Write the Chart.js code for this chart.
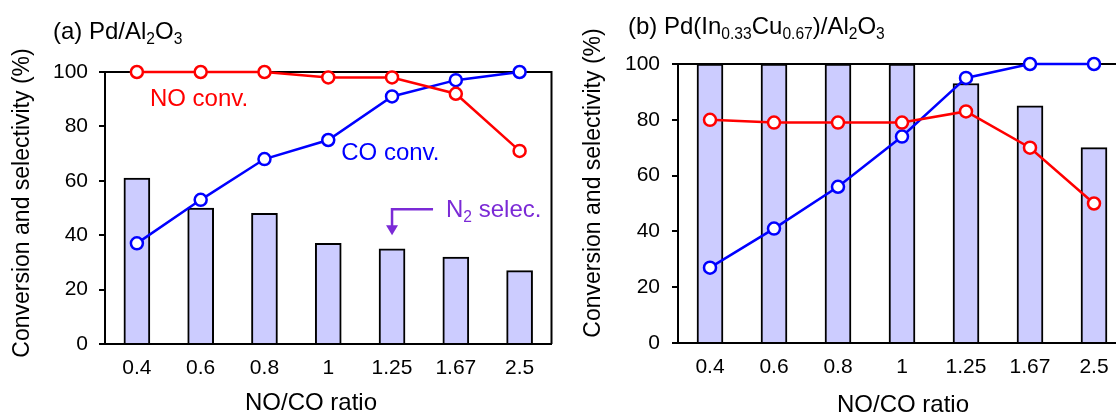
<!DOCTYPE html>
<html>
<head>
<meta charset="utf-8">
<script src="https://cdn.jsdelivr.net/npm/chart.js@4.4.1/dist/chart.umd.min.js"></script>
<style>
html,body{margin:0;padding:0;background:#fff;overflow:hidden;}
#wrap{position:relative;width:1116px;height:416px;overflow:hidden;}
#chart-a{position:absolute;left:0;top:0;}
#chart-b{position:absolute;left:560px;top:0;}
</style>
</head>
<body>
<div id="wrap">
<canvas id="chart-a" width="560" height="416"></canvas>
<canvas id="chart-b" width="600" height="416"></canvas>
</div>
<script>
var RATIOS=['0.4','0.6','0.8','1','1.25','1.67','2.5'];

// (a) Pd/Al2O3
var A_NO=[100,100,100,98,98,92,71];
var A_CO=[37,53,68,75,91,97,100];
var A_N2=[61,50,48,37,35,32,27];

// (b) Pd(In0.33Cu0.67)/Al2O3
var B_NO=[80,79,79,79,83,70,50];
var B_CO=[27,41,56,74,95,100,100];
var B_N2=[100,100,100,100,93,85,70];

var FONT='"Liberation Sans", Arial, sans-serif';
var BAR_FILL='#ccccff';
var PURPLE='#7b2ad6';

// draw text with subscripts: parts = [[text, isSub], ...]
function richText(ctx,parts,x,y,size,color){
    ctx.save();
    ctx.fillStyle=color;
    ctx.textBaseline='middle';
    ctx.textAlign='left';
    parts.forEach(function(p){
        var s=p[1]?size*0.65:size;
        ctx.font=s+'px '+FONT;
        ctx.fillText(p[0],x,p[1]?y+size*0.3:y);
        x+=ctx.measureText(p[0]).width;
    });
    ctx.restore();
}

function plainText(g,txt,x,y,size,rot){
    g.save();
    g.translate(x,y);
    if(rot) g.rotate(-Math.PI/2);
    g.font=size+'px '+FONT;
    g.fillStyle='#000';
    g.textAlign='center';
    g.textBaseline='middle';
    g.fillText(txt,0,0);
    g.restore();
}

function makeChart(id,bars,no,co,box,deco){
    var ctx=document.getElementById(id);
    return new Chart(ctx,{
        type:'bar',
        data:{
            labels:RATIOS,
            datasets:[
                {
                    type:'line',
                    data:no,
                    borderColor:'#ff0000',
                    borderWidth:2.5,
                    pointRadius:6,
                    pointBorderWidth:2.5,
                    pointBackgroundColor:'#fff',
                    pointBorderColor:'#ff0000',
                    clip:false,
                    order:1
                },
                {
                    type:'line',
                    data:co,
                    borderColor:'#0000ff',
                    borderWidth:2.5,
                    pointRadius:6,
                    pointBorderWidth:2.5,
                    pointBackgroundColor:'#fff',
                    pointBorderColor:'#0000ff',
                    clip:false,
                    order:2
                },
                {
                    data:bars,
                    backgroundColor:BAR_FILL,
                    borderColor:'#000',
                    borderWidth:2,
                    barThickness:26,
                    order:3
                }
            ]
        },
        options:{
            responsive:false,
            animation:false,
            layout:{padding:{left:0,top:box.top,right:box.w-box.right,bottom:0}},
            plugins:{legend:{display:false},tooltip:{enabled:false}},
            scales:{
                x:{
                    grid:{display:false,drawTicks:false},
                    border:{color:'#000',width:2},
                    ticks:{color:'#000',font:{size:21,family:FONT},padding:12},
                    afterFit:function(s){s.height=box.h-box.bottom;}
                },
                y:{
                    min:0,max:100,
                    grid:{drawOnChartArea:false,color:'#000',lineWidth:2,tickLength:6},
                    border:{color:'#000',width:2},
                    ticks:{
                        stepSize:10,
                        color:'#000',
                        font:{size:21,family:FONT},
                        padding:box.tickPad,
                        callback:function(v){return v%20===0?v:'';}
                    },
                    afterFit:function(s){s.width=box.left;}
                }
            }
        },
        plugins:[{
            id:'frame',
            beforeDatasetsDraw:function(c){
                var a=c.chartArea, g=c.ctx;
                g.save();
                g.strokeStyle='#000';
                g.lineWidth=2;
                g.beginPath();
                g.moveTo(a.left,a.top);
                g.lineTo(a.right,a.top);
                g.lineTo(a.right,a.bottom);
                g.stroke();
                g.restore();
            },
            afterDraw:function(c){deco(c);}
        }]
    });
}

makeChart('chart-a',A_N2,A_NO,A_CO,
    {w:560,h:416,left:105,top:72,right:553,bottom:344,tickPad:11},
    function(c){
        var g=c.ctx, x=c.scales.x, y=c.scales.y;
        richText(g,[['(a) Pd/Al',0],['2',1],['O',0],['3',1]],53,32,24,'#000');
        plainText(g,'Conversion and selectivity (%)',23,203,23,true);
        plainText(g,'NO/CO ratio',311,403,24,false);
        richText(g,[['NO conv.',0]],x.getPixelForValue(0)+13,y.getPixelForValue(90),24,'#ff0000');
        richText(g,[['CO conv.',0]],x.getPixelForValue(3)+13,y.getPixelForValue(70),24,'#0000ff');
        richText(g,[['N',0],['2',1],[' selec.',0]],x.getPixelForValue(4)+54,y.getPixelForValue(49),24,PURPLE);
        // arrow pointing down to the 1.25 bar
        var ax=x.getPixelForValue(4), ay=y.getPixelForValue(49.5), ey=y.getPixelForValue(40);
        g.save();
        g.strokeStyle=PURPLE;
        g.fillStyle=PURPLE;
        g.lineWidth=2.5;
        g.beginPath();
        g.moveTo(ax+41,ay);
        g.lineTo(ax,ay);
        g.lineTo(ax,ey-9);
        g.stroke();
        g.beginPath();
        g.moveTo(ax-6,ey-10);
        g.lineTo(ax+6,ey-10);
        g.lineTo(ax,ey);
        g.closePath();
        g.fill();
        g.restore();
    });

makeChart('chart-b',B_N2,B_NO,B_CO,
    {w:600,h:416,left:118,top:64,right:566,bottom:343,tickPad:12},
    function(c){
        var g=c.ctx;
        richText(g,[['(b) Pd(In',0],['0.33',1],['Cu',0],['0.67',1],[')/Al',0],['2',1],['O',0],['3',1]],68,27,24,'#000');
        plainText(g,'Conversion and selectivity (%)',34,183,23,true);
        plainText(g,'NO/CO ratio',343,405,24,false);
    });
</script>
</body>
</html>
